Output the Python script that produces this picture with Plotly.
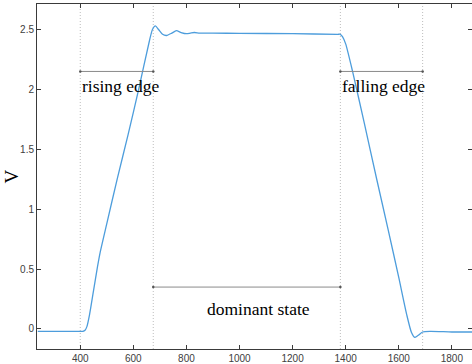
import plotly.graph_objects as go

# waveform samples (time, volts)
t = [240, 400, 410, 418, 425, 435, 450, 465, 475, 500, 540, 580, 620, 660, 672, 683, 695,
     710, 725, 745, 762, 780, 800, 815, 830, 850, 900, 1000, 1200, 1370, 1380, 1388, 1400,
     1426, 1470, 1517, 1560, 1600, 1630, 1648, 1660, 1672, 1690, 1720, 1800, 1880]
v = [-0.02, -0.02, -0.02, -0.01, 0.02, 0.12, 0.32, 0.52, 0.64, 0.88, 1.26, 1.62, 2.0, 2.40,
     2.50, 2.53, 2.50, 2.46, 2.45, 2.47, 2.49, 2.475, 2.465, 2.47, 2.475, 2.47, 2.47, 2.468,
     2.465, 2.46, 2.46, 2.44, 2.38, 2.15, 1.72, 1.25, 0.83, 0.43, 0.12, -0.03, -0.07, -0.055,
     -0.025, -0.02, -0.025, -0.025]

edges = [400, 675, 1380, 1690]
span_labels = ["rising edge", "dominant state", "falling edge"]
span_start = [400, 675, 1380]
span_end = [675, 1380, 1690]
span_y = [2.15, 0.35, 2.15]
label_x = [400, 871, 1380]
label_y = [2.03, 0.17, 2.03]

x_ticks = [400, 600, 800, 1000, 1200, 1400, 1600, 1800]
y_ticks = [0, 0.5, 1, 1.5, 2, 2.5]
y_tick_text = ["0", "0.5", "1", "1.5", "2", "2.5"]

fig = go.Figure()
fig.add_trace(go.Scatter(x=t, y=v, mode="lines",
                         line=dict(color="#4d9ddc", width=1.3, shape="spline", smoothing=0.6),
                         hoverinfo="skip"))

for e in edges:
    fig.add_shape(type="line", xref="x", yref="paper", x0=e, x1=e, y0=0, y1=1,
                  line=dict(color="#bdbdbd", width=1, dash="1px,2px"), layer="below")

for s, e, y in zip(span_start, span_end, span_y):
    fig.add_trace(go.Scatter(x=[s, e], y=[y, y], mode="lines+markers",
                             line=dict(color="#8a8a8a", width=1),
                             marker=dict(size=2.5, color="#555555"), hoverinfo="skip"))

for txt, x, y in zip(span_labels, label_x, label_y):
    fig.add_annotation(x=x, y=y, text=txt, showarrow=False, xanchor="left", yanchor="middle",
                       font=dict(family="Liberation Serif", size=17.5, color="#000000"))

fig.add_annotation(xref="paper", yref="paper", x=(11 - 37) / 435, y=0.5, text="V",
                   textangle=-90, showarrow=False, xanchor="center", yanchor="middle",
                   font=dict(family="Liberation Serif", size=19, color="#000000"))

axis_common = dict(showgrid=False, zeroline=False, showline=True, linecolor="#3a3a3a",
                   linewidth=1, mirror="ticks", ticks="inside", ticklen=4, tickwidth=1,
                   tickcolor="#3a3a3a",
                   tickfont=dict(family="Liberation Sans", size=10, color="#404040"))

fig.update_layout(
    width=472, height=364,
    margin=dict(l=37, r=0, t=4, b=15),
    paper_bgcolor="white", plot_bgcolor="white",
    showlegend=False,
    xaxis=dict(range=[237, 1876], tickvals=x_ticks, **axis_common),
    yaxis=dict(range=[-0.167, 2.713], tickvals=y_ticks, ticktext=y_tick_text, **axis_common),
)

fig.write_html("out.html")
